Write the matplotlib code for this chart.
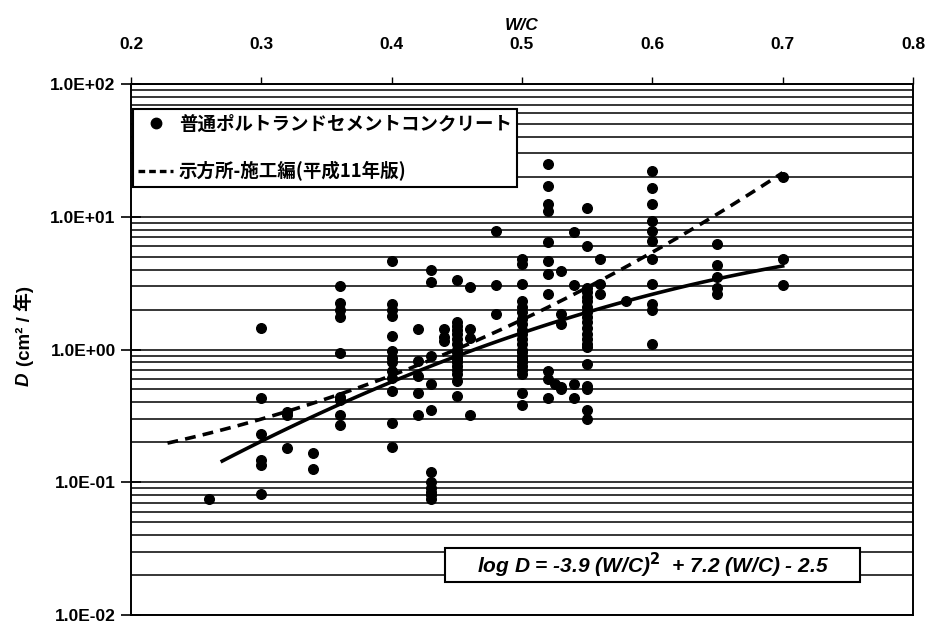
import numpy as np
import matplotlib
matplotlib.use('Agg')
import matplotlib.pyplot as plt
from matplotlib.ticker import LogLocator, FuncFormatter, NullFormatter, FixedLocator
from matplotlib.lines import Line2D
from matplotlib.patches import Rectangle

plt.rcParams['font.family'] = ['Liberation Sans', 'Noto Sans CJK JP']
plt.rcParams['font.weight'] = 'bold'

# measured W/C and diffusion coefficient D (cm2/year)
wc = ([0.26] +
      [0.30] * 6 +
      [0.32] * 3 +
      [0.34] * 2 +
      [0.36] * 9 +
      [0.40] * 13 +
      [0.42] * 5 +
      [0.43] * 11 +
      [0.44] * 3 +
      [0.45] * 17 +
      [0.46] * 4 +
      [0.48] * 3 +
      [0.50] * 22 +
      [0.52] * 11 +
      [0.525] +
      [0.53] * 5 +
      [0.54] * 4 +
      [0.55] * 20 +
      [0.56] * 3 +
      [0.58] +
      [0.60] * 11 +
      [0.65] * 5 +
      [0.70] * 3)

d_values = ([0.075] +
            [1.46, 0.43, 0.23, 0.148, 0.136, 0.081] +
            [0.34, 0.32, 0.18] +
            [0.166, 0.125] +
            [3.0, 2.25, 2.0, 1.75, 0.94, 0.44, 0.42, 0.32, 0.27] +
            [4.66, 2.2, 2.0, 1.8, 1.27, 0.98, 0.87, 0.8, 0.69, 0.61, 0.49, 0.28, 0.185] +
            [1.42, 0.82, 0.63, 0.47, 0.32] +
            [3.96, 3.2, 0.9, 0.55, 0.35, 0.12, 0.10, 0.09, 0.085, 0.08, 0.075] +
            [1.42, 1.25, 1.16] +
            [3.33, 1.6, 1.5, 1.4, 1.3, 1.2, 1.1, 1.0, 0.95, 0.9, 0.85, 0.8, 0.75, 0.7, 0.65, 0.58, 0.45] +
            [2.98, 1.42, 1.23, 0.32] +
            [7.8, 3.07, 1.85] +
            [4.8, 4.4, 3.1, 2.3, 2.1, 1.9, 1.7, 1.55, 1.4, 1.3, 1.2, 1.1, 1.0, 0.95, 0.9, 0.85,
             0.8, 0.75, 0.7, 0.65, 0.47, 0.38] +
            [25, 17, 12.5, 11, 6.4, 4.66, 3.7, 2.64, 0.69, 0.6, 0.43] +
            [0.55] +
            [3.9, 1.85, 1.55, 0.52, 0.5] +
            [7.7, 3.07, 0.55, 0.43] +
            [11.7, 6.0, 2.9, 2.7, 2.5, 2.3, 2.1, 1.9, 1.75, 1.6, 1.45, 1.3, 1.2, 1.1, 1.04,
             0.78, 0.53, 0.5, 0.35, 0.30] +
            [4.8, 3.1, 2.6] +
            [2.33] +
            [22, 16.6, 12.5, 9.3, 7.8, 6.6, 4.8, 3.1, 2.2, 2.0, 1.1] +
            [6.2, 4.3, 3.5, 2.9, 2.6] +
            [20, 4.8, 3.07])

# regression: log D = a (W/C)^2 + b (W/C) + c
fit_coef = [-3.9, 7.2, -2.5]
fit_range = [0.27, 0.70]
# standard spec curve (cm2/s formula converted to cm2/year)
spec_coef = [4.5, 0.14, -0.971]
spec_range = [0.228, 0.70]

label_points = '普通ポルトランドセメントコンクリート'
label_spec = '示方所-施工編(平成11年版)'
equation = 'log D = -3.9 (W/C)$^{\\mathbf{2}}$  + 7.2 (W/C) - 2.5'

fig = plt.figure(figsize=(9.29, 6.24), dpi=100)
ax = fig.add_axes([131 / 929, 9 / 624, 782 / 929, 531 / 624])

ax.set_yscale('log')
ax.set_xlim(0.2, 0.8)
ax.set_ylim(0.01, 100)

# horizontal grid at every decade and every minor step
ax.yaxis.set_major_locator(LogLocator(base=10, numticks=10))
ax.yaxis.set_minor_locator(LogLocator(base=10, subs=np.arange(2, 10), numticks=10))
ax.yaxis.set_minor_formatter(NullFormatter())
ax.yaxis.set_major_formatter(FuncFormatter(lambda v, p: f'{v:.1E}'))
ax.grid(True, which='both', axis='y', color='black', linewidth=1.1)
ax.set_axisbelow(True)

ax.xaxis.set_major_locator(FixedLocator([0.2, 0.3, 0.4, 0.5, 0.6, 0.7, 0.8]))
ax.xaxis.set_major_formatter(FuncFormatter(lambda v, p: f'{v:.1f}'))
ax.xaxis.tick_top()
ax.xaxis.set_label_position('top')
ax.tick_params(axis='x', which='major', direction='out', length=5, width=1, pad=18, labelsize=12.5)
ax.tick_params(axis='y', which='major', direction='inout', length=14, width=1.2, pad=4, labelsize=12.5)
ax.tick_params(axis='y', which='minor', length=0)
for s in ax.spines.values():
    s.set_linewidth(1.4)

ax.scatter(wc, d_values, s=48, color='black', zorder=3)

x_fit = np.linspace(fit_range[0], fit_range[1], 100)
ax.plot(x_fit, 10 ** np.polyval(fit_coef, x_fit), color='black', linewidth=2.6, zorder=4)
x_spec = np.linspace(spec_range[0], spec_range[1], 100)
ax.plot(x_spec, 10 ** np.polyval(spec_coef, x_spec), color='black', linewidth=2.6,
        linestyle=(0, (3, 2)), zorder=4)

ax.set_xlabel('W/C', fontsize=12.5, fontstyle='italic', fontweight='bold', labelpad=5)

# y label: italic D followed by the unit
fig.text(24 / 929, 1 - 372 / 624, 'D', rotation=90, ha='center', va='top',
         fontsize=13.5, fontstyle='italic', fontweight='bold')
fig.text(24 / 929, 1 - 366 / 624, '(cm² / 年)', rotation=90, ha='center', va='bottom',
         fontsize=13.5, fontweight='bold')

handles = [Line2D([], [], marker='o', color='black', linestyle='none', markersize=7.5),
           Line2D([], [], color='black', linewidth=2.4, linestyle=(0, (2, 1.2)))]
leg = ax.legend(handles, [label_points, label_spec], loc='upper left',
                bbox_to_anchor=(0.002, 0.953), borderaxespad=0, fancybox=False,
                framealpha=1, edgecolor='black', handlelength=1.9, handletextpad=0.3,
                labelspacing=1.5, borderpad=0.3,
                prop={'family': 'Noto Sans CJK JP', 'weight': 'bold', 'size': 13.3})
leg.get_frame().set_linewidth(1.5)
leg.set_zorder(5)

ax.add_patch(Rectangle((0.402, 0.062), 0.53, 0.064, transform=ax.transAxes,
                       facecolor='white', edgecolor='black', linewidth=1.5, zorder=5))
ax.text(0.667, 0.094, equation, transform=ax.transAxes, ha='center', va='center',
        fontsize=15, fontstyle='italic', fontweight='bold', zorder=6)

plt.savefig('out.png', dpi=100)
